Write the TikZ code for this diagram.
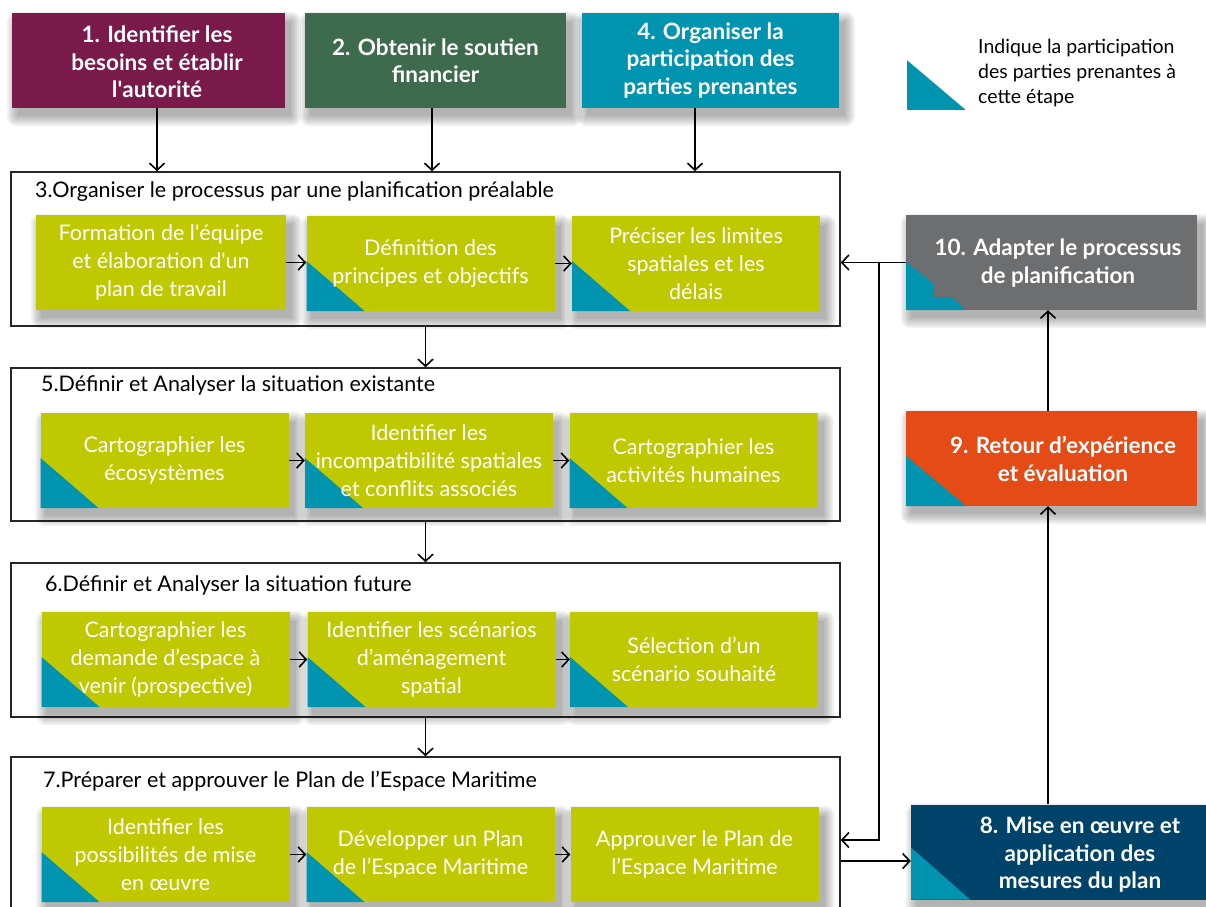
\documentclass[tikz,border=0pt]{standalone}
\usepackage{fontspec}
\setmainfont{Lato}
\usetikzlibrary{arrows.meta,calc}
\definecolor{purp}{HTML}{7A1A4B}
\definecolor{dgreen}{HTML}{3E6B4D}
\definecolor{tealc}{HTML}{0094B1}
\definecolor{limec}{HTML}{BFC800}
\definecolor{grayc}{HTML}{6D6E70}
\definecolor{orangec}{HTML}{E54B16}
\definecolor{navyc}{HTML}{00436A}
\pgfdeclarelayer{back}
\pgfdeclarelayer{mid}
\pgfsetlayers{back,mid,main}
\newcommand\shd[1]{\begin{pgfonlayer}{mid}\foreach \k in {0,2,...,10}{\fill[black,opacity=0.055,rounded corners=\k pt] ([xshift=5pt-\k pt,yshift=-9pt+\k pt]#1.north west) rectangle ([xshift=6pt+\k pt,yshift=-8pt-\k pt]#1.south east);}\end{pgfonlayer}}
\newcommand\sq{\textquotesingle}
\begin{document}
\begin{tikzpicture}[x=1pt,y=-1pt,
  tri/.style 2 args={path picture={\fill[tealc] (path picture bounding box.south west) -- ++(#1,0) -- ++(-#1,-#2) -- cycle;}},
  tris/.style={tri={58}{50}},
  hdr/.style={fill=#1, text=white, font=\bfseries\fontsize{22.5}{27.5}\selectfont, align=center, inner sep=0pt, minimum height=95pt},
  htxt/.style={text=white, font=\bfseries\fontsize{22.5}{27.5}\selectfont, align=center, inner sep=0pt},
  sub/.style={fill=limec, text=white, font=\fontsize{21.5}{28}\selectfont, align=center, minimum width=248pt, minimum height=95pt, inner sep=0pt},
  stage/.style={draw=black!85, line width=1.5pt, fill=white, minimum width=829pt, inner sep=0pt},
  ftitle/.style={font=\fontsize{21.5}{22}\selectfont, anchor=west, inner sep=0pt},
  arr/.style={line width=1.6pt, -{Straight Barb[length=7pt,width=15pt]}},
]
\useasboundingbox (0,0) rectangle (1206,906);
\clip (0,0) rectangle (1206,906);
\begin{pgfonlayer}{back}
\fill[white] (0,0) rectangle (1206,906);
% stages
\node[stage, minimum height=154pt] (f3) at (425.5,249) {};
\node[stage, minimum height=153pt] (f5) at (425.5,444.5) {};
\node[stage, minimum height=154pt] (f6) at (425.5,640) {};
\node[stage, minimum height=170pt] (f7) at (425.5,842) {};
\end{pgfonlayer}

% top boxes
\node[hdr=purp, minimum width=273pt] (b1) at (148.5,60.5) {};
\node[htxt] (b1t) at (157,62) {1. Identifier les\\besoins et établir\\l\sq autorité};
\node[hdr=dgreen, minimum width=261pt] (b2) at (435.5,60.5) {2. Obtenir le soutien\\financier};
\node[hdr=tealc, minimum width=257pt] (b4) at (710.5,60.5) {4. Organiser la\\participation des\\parties prenantes};
\shd{b1}\shd{b2}\shd{b4}

% legend
\node[fill=tealc, minimum width=59pt, minimum height=50pt, inner sep=0pt, path picture={\fill[white] (path picture bounding box.north west) -- (path picture bounding box.north east) -- (path picture bounding box.south east) -- cycle;}] (legtri) at (936.5,85) {};
\node[font=\fontsize{19.5}{25}\selectfont, align=left, anchor=west, inner sep=0pt] (leg) at (978,73) {Indique la participation\\des parties prenantes à\\cette étape};

% stage titles
\node[ftitle] (t3) at (35,192) {3.Organiser le processus par une planification préalable};
\node[ftitle] (t5) at (41,385) {5.Définir et Analyser la situation existante};
\node[ftitle] (t6) at (45,585) {6.Définir et Analyser la situation future};
\node[ftitle] (t7) at (43,781) {7.Préparer et approuver le Plan de l’Espace Maritime};

% row 3
\node[sub, minimum width=250pt] (s3a) at (161,262.5) {Formation de l\sq équipe\\et élaboration d\sq un\\plan de travail};
\node[sub, tris] (s3b) at (430.5,263.5) {Définition des\\principes et objectifs};
\node[sub, tris] (s3c) at (696,263.5) {Préciser les limites\\spatiales et les\\délais};

% row 5
\node[sub, tris] (s5a) at (164.5,460.5) {Cartographier les\\écosystèmes};
\node[sub, tris] (s5b) at (429,460.5) {Identifier les\\incompatibilité spatiales\\et conflits associés};
\node[sub, tris] (s5c) at (693.5,460.5) {Cartographier les\\activités humaines};

% row 6
\node[sub, tris] (s6a) at (165.5,659.5) {Cartographier les\\demande d’espace à\\venir (prospective)};
\node[sub, tris] (s6b) at (431.5,659.5) {Identifier les scénarios\\d’aménagement\\spatial};
\node[sub, tris] (s6c) at (694,659.5) {Sélection d’un\\scénario souhaité};

% row 7
\node[sub, tris] (s7a) at (165.5,854.5) {Identifier les\\possibilités de mise\\en œuvre};
\node[sub, tris] (s7b) at (430.5,854.5) {Développer un Plan\\de l’Espace Maritime};
\node[sub] (s7c) at (694.5,854.5) {Approuver le Plan de\\l’Espace Maritime};

\foreach \n in {s3a,s3b,s3c,s5a,s5b,s5c,s6a,s6b,s6c,s7a,s7b,s7c}{\shd{\n}}

% right column
\node[hdr=grayc, minimum width=291pt, path picture={\fill[tealc] (path picture bounding box.south west) -- ++(0,-48) -- ++(28,22) -- ++(0,13) -- ++(17,0) -- ++(15,13) -- cycle;}] (b10) at (1051.5,262.5) {};
\node[htxt] (b10t) at (1058,263) {10. Adapter le processus\\de planification};

\node[hdr=orangec, minimum width=291pt, tri={60}{50}] (b9) at (1051.5,458.5) {};
\node[htxt] (b9t) at (1063,459) {9. Retour d’expérience\\et évaluation};

\node[hdr=navyc, minimum width=298pt, tri={59}{52}] (b8) at (1060,852) {};
\node[htxt] (b8t) at (1080,855) {8. Mise en œuvre et\\application des\\mesures du plan};
\shd{b10}\shd{b9}\shd{b8}

% connectors top
\draw[arr] ([xshift=8.5pt]b1.south) -- ([xshift=8.5pt]b1.south |- f3.north);
\draw[arr] ([xshift=-3.5pt]b2.south) -- ([xshift=-3.5pt]b2.south |- f3.north);
\draw[arr] ([xshift=-15.5pt]b4.south) -- ([xshift=-15.5pt]b4.south |- f3.north);

% between stages
\draw[arr] (f3.south) -- (f5.north);
\draw[arr] (f5.south) -- (f6.north);
\draw[arr] (f6.south) -- (f7.north);

% within rows
\draw[arr] (s3a.east) -- (s3a.east -| s3b.west);
\draw[arr] (s3b.east) -- (s3b.east -| s3c.west);
\draw[arr] (s5a.east) -- (s5a.east -| s5b.west);
\draw[arr] (s5b.east) -- (s5b.east -| s5c.west);
\draw[arr] (s6a.east) -- (s6a.east -| s6b.west);
\draw[arr] (s6b.east) -- (s6b.east -| s6c.west);
\draw[arr] (s7a.east) -- (s7a.east -| s7b.west);
\draw[arr] (s7b.east) -- (s7b.east -| s7c.west);

% right loop
\coordinate (jt) at (879,262.5);
\coordinate (jb) at (879,840);
\draw[arr] (b10.west) -- (b10.west -| f3.east);
\draw[arr] (jt) -- (jb) -- (jb -| f7.east);
\draw[arr] ([yshift=-9pt]b8.west -| f7.east) -- ([yshift=-9pt]b8.west);
\draw[arr] ([xshift=-3.5pt]b9.south |- b8.north) -- ([xshift=-3.5pt]b9.south);
\draw[arr] ([xshift=-3.5pt]b9.north) -- ([xshift=-3.5pt]b10.south);
\end{tikzpicture}
\end{document}
